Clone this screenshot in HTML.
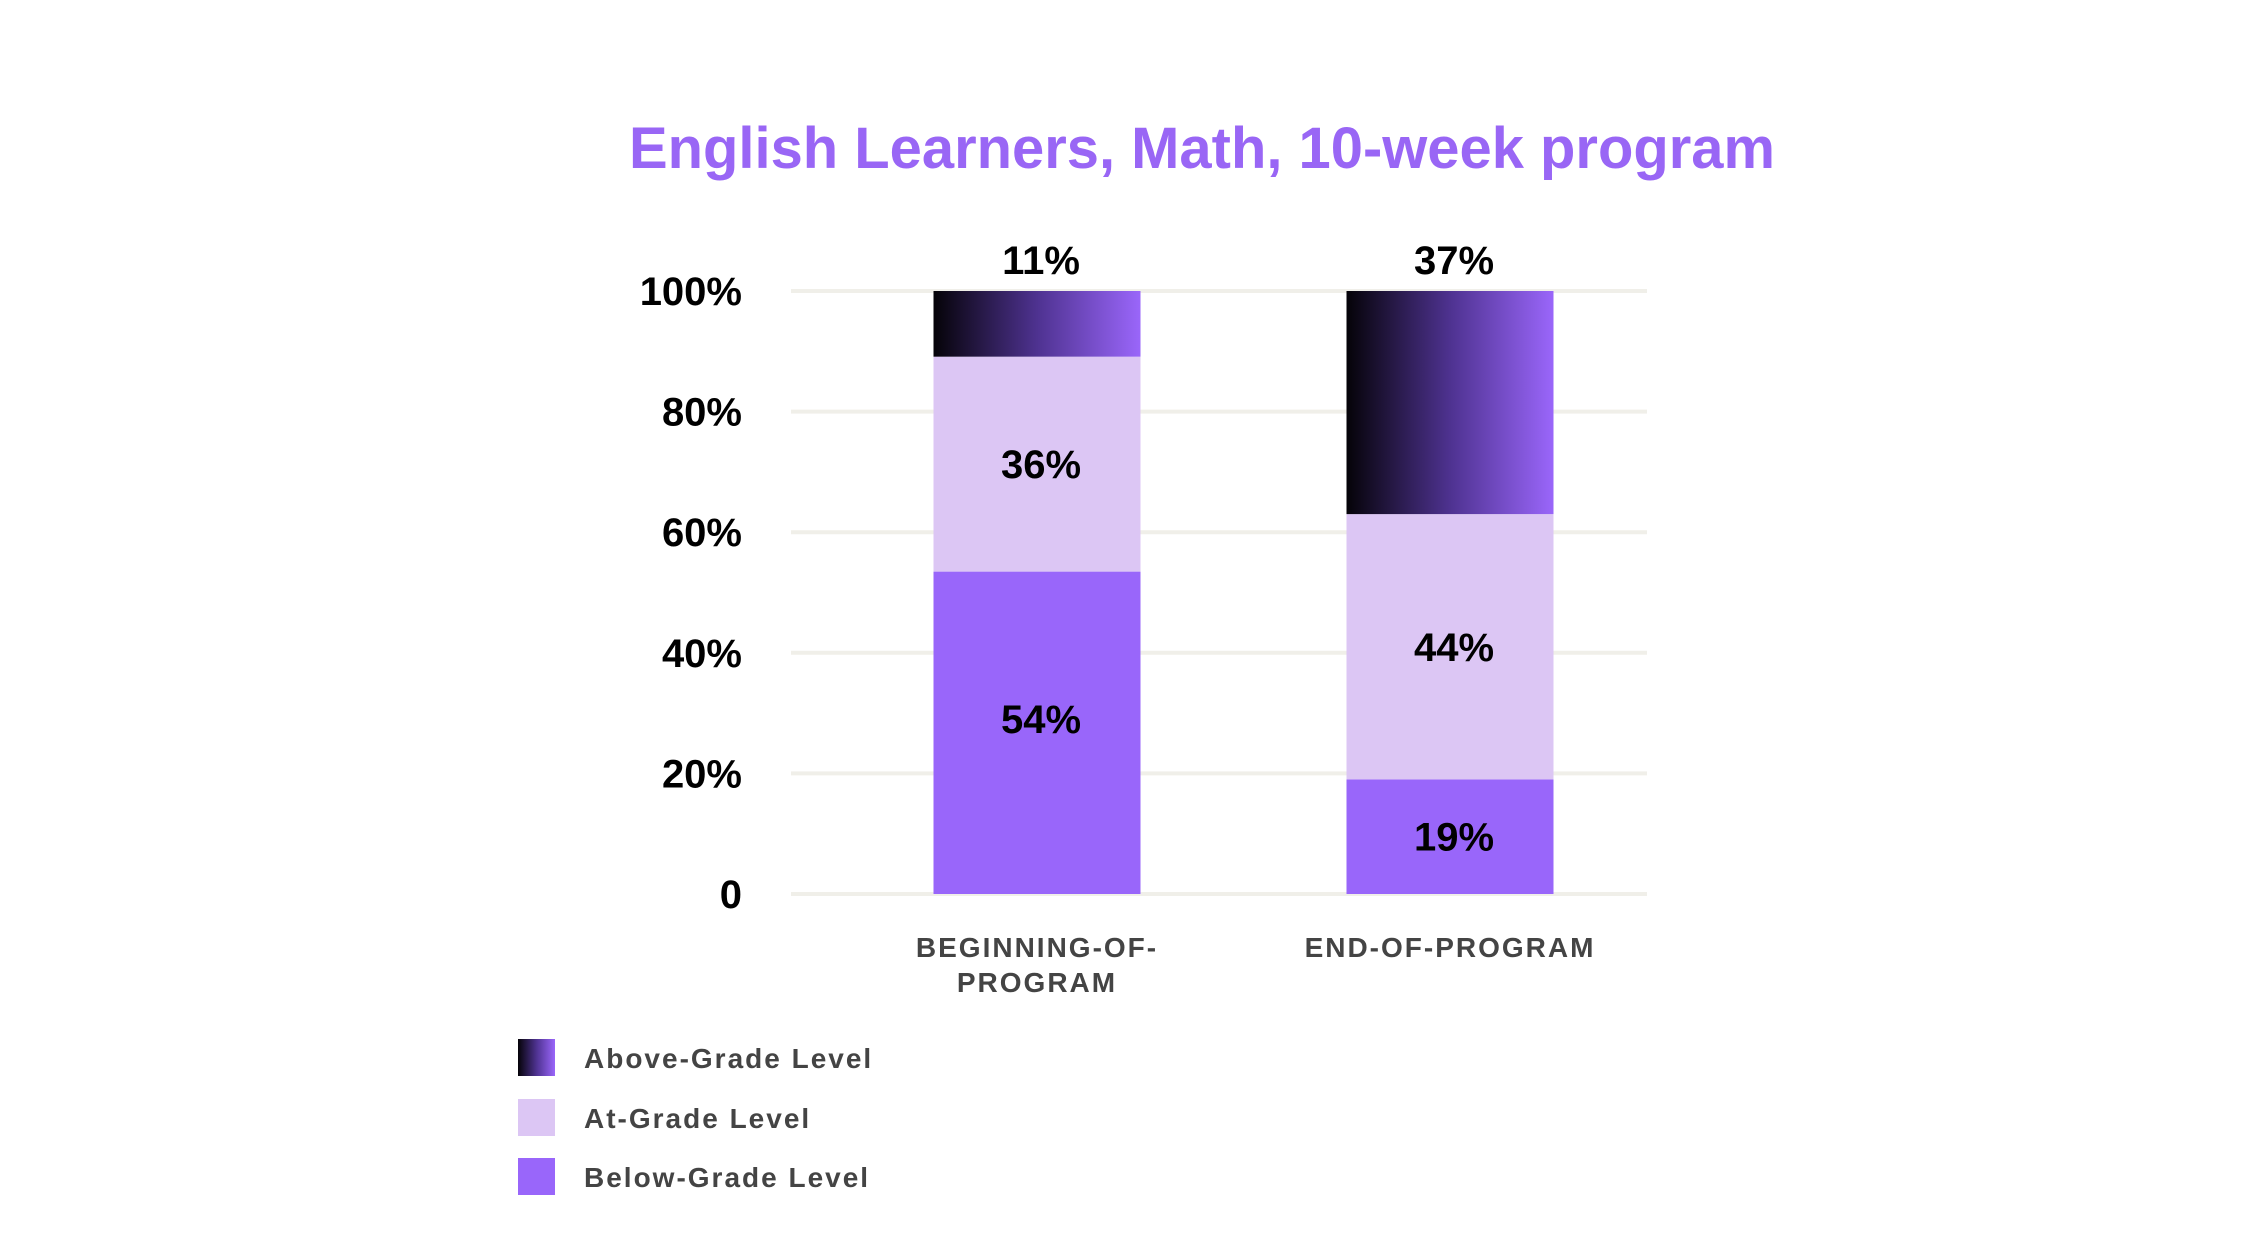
<!DOCTYPE html>
<html><head><meta charset="utf-8"><style>
html,body{margin:0;padding:0;background:#fff;}
svg{display:block;font-family:"Liberation Sans","DejaVu Sans",sans-serif;}
</style></head><body>
<svg id="chart" width="2250" height="1260" viewBox="0 0 2250 1260">
<defs>
<linearGradient id="gAbove" x1="0" y1="0" x2="1" y2="0">
<stop offset="0" stop-color="#050308"/><stop offset="0.5" stop-color="#4e3290"/><stop offset="1" stop-color="#9a66fa"/>
</linearGradient>
</defs>
<text x="629" y="168" font-size="58" font-weight="bold" fill="#9966f5" textLength="1146" lengthAdjust="spacingAndGlyphs">English Learners, Math, 10-week program</text>
<g id="grid"></g><g id="bars"></g><g id="labels"></g>
<g>
<rect x="518" y="1039" width="37" height="37" fill="url(#gAbove)"/>
<text x="584" y="1068" font-size="28" font-weight="bold" fill="#444" letter-spacing="2">Above-Grade Level</text>
<rect x="518" y="1099" width="37" height="37" fill="#dcc6f4"/>
<text x="584" y="1128" font-size="28" font-weight="bold" fill="#444" letter-spacing="2">At-Grade Level</text>
<rect x="518" y="1158" width="37" height="37" fill="#9966fa"/>
<text x="584" y="1187" font-size="28" font-weight="bold" fill="#444" letter-spacing="2">Below-Grade Level</text>
</g>
</svg>
<script>
const categories = ["BEGINNING-OF-|PROGRAM", "END-OF-PROGRAM"];
const belowValues = [54, 19];
const atValues = [36, 44];
const aboveValues = [11, 37];
const yTicks = [0, 20, 40, 60, 80, 100];
const yTickLabels = ["0", "20%", "40%", "60%", "80%", "100%"];

const NS = "http://www.w3.org/2000/svg";
const y0 = 894, y100 = 291, gx0 = 791, gx1 = 1647;
const barW = 207, centers = [1037, 1450];
function yScale(v){ return y0 - (y0 - y100) * v / 100; }
function mk(tag, attrs, parent){ const e = document.createElementNS(NS, tag); for (const k in attrs) e.setAttribute(k, attrs[k]); parent.appendChild(e); return e; }
const grid = document.getElementById('grid'), bars = document.getElementById('bars'), labels = document.getElementById('labels');

yTicks.forEach((t, i) => {
  const l = mk('line', {x1: gx0, x2: gx1, y1: yScale(t), y2: yScale(t), stroke: '#f0efe9', 'stroke-width': 4}, grid);
  
  
  const tx = mk('text', {x: 742, y: yScale(t) + 14, 'text-anchor': 'end', 'font-size': 40, 'font-weight': 'bold', fill: '#000'}, grid);
  tx.textContent = yTickLabels[i];
  
  
});

categories.forEach((c, i) => {
  const total = belowValues[i] + atValues[i] + aboveValues[i];
  const norm = 100 / Math.max(total, 100);
  const x = centers[i] - barW / 2;
  const segs = [[belowValues[i], '#9966fa', 'below'], [atValues[i], '#dcc6f4', 'at'], [aboveValues[i], 'url(#gAbove)', 'above']];
  let acc = 0;
  segs.forEach(s => {
    const v = s[0] * norm;
    const yt = yScale(acc + v), yb = yScale(acc);
    const r = mk('rect', {x: x, y: yt, width: barW, height: yb - yt, fill: s[1]}, bars);
    
    
    let ly = s[2] === 'above' ? yScale(100) - 17 : (yt + yb) / 2 + 14;
    if (s[2] === 'below' && v > 40) ly -= 14;
    const t = mk('text', {x: centers[i] + 4, y: ly, 'text-anchor': 'middle', 'font-size': 40, 'font-weight': 'bold', fill: '#000'}, labels);
    t.textContent = s[0] + '%';
    
    
    acc += v;
  });
  c.split('|').forEach((line, j) => {
    const t = mk('text', {x: centers[i], y: 957 + j * 35, 'text-anchor': 'middle', 'font-size': 28, 'font-weight': 'bold', fill: '#444', 'letter-spacing': 2}, labels);
    t.textContent = line;
    
    
  });
});
</script>
</body></html>
